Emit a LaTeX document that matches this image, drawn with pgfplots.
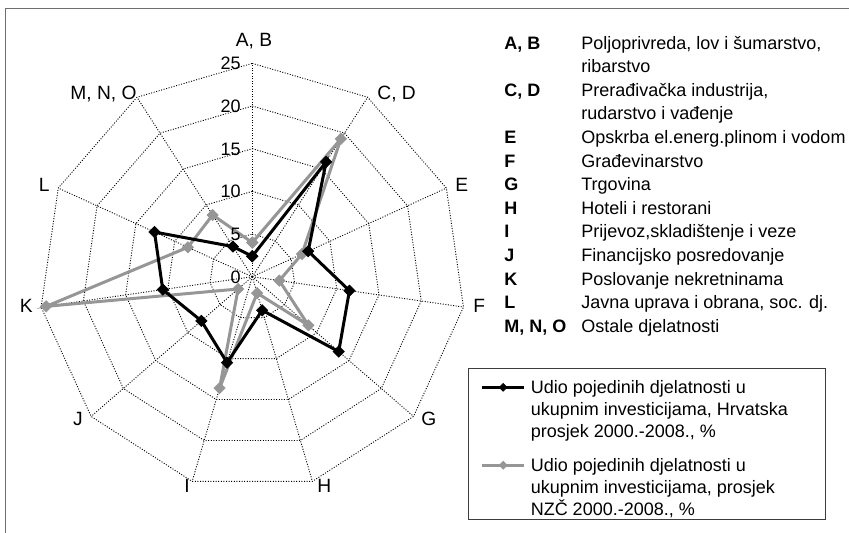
\documentclass[border=0pt]{standalone}
\usepackage{fontspec}
\setmainfont{Liberation Sans}
\usepackage{pgfplots}
\pgfplotsset{compat=1.18}
\definecolor{seriesgray}{RGB}{150,150,150}
\definecolor{framegray}{RGB}{110,110,110}
\definecolor{legframe}{RGB}{60,60,60}
\pgfplotsset{
  gridline/.style={black, line width=0.45pt, dash pattern=on 0.5pt off 0.8pt, forget plot, data cs=polar},
  blackseries/.style={black, line width=1.5pt, mark=square*, mark size=2pt, mark options={solid, rotate=45, line width=0.3pt}, data cs=polar, forget plot},
  grayseries/.style={seriesgray, line width=1.5pt, mark=square*, mark size=2pt, mark options={solid, rotate=45, line width=0.3pt}, data cs=polar, forget plot},
}
\begin{document}
\begin{tikzpicture}[font=\fontsize{9}{11}\selectfont]
\useasboundingbox (0pt,0pt) rectangle (424.5pt,266pt);
\draw[framegray, line width=0.7pt] (2.85pt,-10pt) -- (2.85pt,261.85pt) -- (440pt,261.85pt);
\begin{axis}[
  at={(126.15pt,127.65pt)}, anchor=origin,
  x=4.2667pt, y=4.2667pt,
  xmin=-25, xmax=25, ymin=-25, ymax=25,
  hide axis, clip=false,
  legend style={at={(1.0064,0.2867)}, anchor=north west, draw=legframe, line width=0.5pt,
    inner xsep=5.7pt, inner ysep=0.5pt, column sep=1.35pt, row sep=2.35pt,
    font=\fontsize{9}{11}\selectfont,
    nodes={anchor=base west, inner xsep=1pt, inner ysep=0.5pt, text height=11.75pt, text depth=}},
  legend cell align=left,
  legend image code/.code={\draw[mark repeat=2,mark phase=2,#1] plot coordinates {(0pt,3.2pt) (10.65pt,3.2pt) (21.3pt,3.2pt)};},
]
% polygon grid rings
\pgfplotsinvokeforeach{5,10,15,20,25}{
  \addplot[gridline] coordinates {(90,#1) (57.2727,#1) (24.5455,#1) (-8.1818,#1) (-40.9091,#1) (-73.6364,#1) (-106.3636,#1) (-139.0909,#1) (-171.8182,#1) (-204.5455,#1) (-237.2727,#1) (-270,#1)};
}
% spokes
\pgfplotsinvokeforeach{90,57.2727,24.5455,-8.1818,-40.9091,-73.6364,-106.3636,-139.0909,-171.8182,-204.5455,-237.2727}{
  \addplot[gridline] coordinates {(#1,0) (#1,25)};
}
% NZC average (gray)
\addplot[grayseries] coordinates {(90,4.0) (57.2727,19.2) (24.5455,6.4) (-8.1818,3.2) (-40.9091,8.7) (-73.6364,2.0) (-106.3636,13.6) (-139.0909,2.2) (-171.8182,24.4) (-204.5455,8.3) (-237.2727,8.6) (-270,4.0)};
% Croatia average (black)
\addplot[blackseries] coordinates {(90,2.4) (57.2727,16.0) (24.5455,7.2) (-8.1818,11.5) (-40.9091,13.4) (-73.6364,4.1) (-106.3636,10.5) (-139.0909,7.9) (-171.8182,10.6) (-204.5455,12.6) (-237.2727,4.2) (-270,2.4)};
\addlegendimage{black, line width=1.6pt, mark=square*, mark size=1.4pt, mark options={solid, rotate=45, line width=0.3pt}}
\addlegendentry{\parbox[t]{140.45pt}{\raggedright Udio pojedinih djelatnosti u\\ukupnim investicijama, Hrvatska\\prosjek 2000.-2008., \%}}
\addlegendimage{seriesgray, line width=1.6pt, mark=square*, mark size=1.4pt, mark options={solid, rotate=45, line width=0.3pt}}
\addlegendentry{\parbox[t]{140.45pt}{\raggedright Udio pojedinih djelatnosti u\\ukupnim investicijama, prosjek\\NZČ 2000.-2008., \%}}
\end{axis}
% tick labels
\begin{scope}[every node/.style={inner sep=0pt, anchor=base east}]
\node at (120.5pt,124.45pt) {0};
\node at (120.5pt,145.8pt) {5};
\node at (120.5pt,167.1pt) {10};
\node at (120.5pt,188.45pt) {15};
\node at (120.5pt,209.8pt) {20};
\node at (120.5pt,231.1pt) {25};
\end{scope}
% category labels around the radar
\begin{scope}[every node/.style={inner sep=0pt, font=\fontsize{9.6}{11}\selectfont}]
\node[anchor=base] at (127pt,242.8pt) {A, B};
\node[anchor=base west] at (188.5pt,216.45pt) {C, D};
\node[anchor=base east] at (68.5pt,216.45pt) {M, N, O};
\node[anchor=base west] at (227.5pt,170.3pt) {E};
\node[anchor=base east] at (25pt,170.3pt) {L};
\node[anchor=base west] at (236.5pt,109.8pt) {F};
\node[anchor=base east] at (16.5pt,109.8pt) {K};
\node[anchor=base west] at (210.5pt,53.15pt) {G};
\node[anchor=base east] at (41.5pt,53.15pt) {J};
\node[anchor=base west] at (158.5pt,19.8pt) {H};
\node[anchor=base east] at (95pt,19.8pt) {I};
\end{scope}
% category list
\begin{scope}[every node/.style={inner sep=0pt, anchor=base west}]
\node[font=\fontsize{9}{11}\selectfont\bfseries] at (252pt,241.45pt) {A, B};
\node at (290.5pt,241.45pt) {Poljoprivreda, lov i šumarstvo,};
\node at (290.5pt,229.65pt) {ribarstvo};
\node[font=\fontsize{9}{11}\selectfont\bfseries] at (252pt,217.85pt) {C, D};
\node at (290.5pt,217.85pt) {Prerađivačka industrija,};
\node at (290.5pt,206.05pt) {rudarstvo i vađenje};
\node[font=\fontsize{9}{11}\selectfont\bfseries] at (252pt,194.25pt) {E};
\node at (290.5pt,194.25pt) {Opskrba el.energ.plinom i vodom};
\node[font=\fontsize{9}{11}\selectfont\bfseries] at (252pt,182.45pt) {F};
\node at (290.5pt,182.45pt) {Građevinarstvo};
\node[font=\fontsize{9}{11}\selectfont\bfseries] at (252pt,170.65pt) {G};
\node at (290.5pt,170.65pt) {Trgovina};
\node[font=\fontsize{9}{11}\selectfont\bfseries] at (252pt,158.85pt) {H};
\node at (290.5pt,158.85pt) {Hoteli i restorani};
\node[font=\fontsize{9}{11}\selectfont\bfseries] at (252pt,147.05pt) {I};
\node at (290.5pt,147.05pt) {Prijevoz,skladištenje i veze};
\node[font=\fontsize{9}{11}\selectfont\bfseries] at (252pt,135.25pt) {J};
\node at (290.5pt,135.25pt) {Financijsko posredovanje};
\node[font=\fontsize{9}{11}\selectfont\bfseries] at (252pt,123.45pt) {K};
\node at (290.5pt,123.45pt) {Poslovanje nekretninama};
\node[font=\fontsize{9}{11}\selectfont\bfseries] at (252pt,111.65pt) {L};
\node at (290.5pt,111.65pt) {Javna uprava i obrana, soc. dj.};
\node[font=\fontsize{9}{11}\selectfont\bfseries] at (252pt,99.85pt) {M, N, O};
\node at (290.5pt,99.85pt) {Ostale djelatnosti};
\end{scope}
\end{tikzpicture}
\end{document}
